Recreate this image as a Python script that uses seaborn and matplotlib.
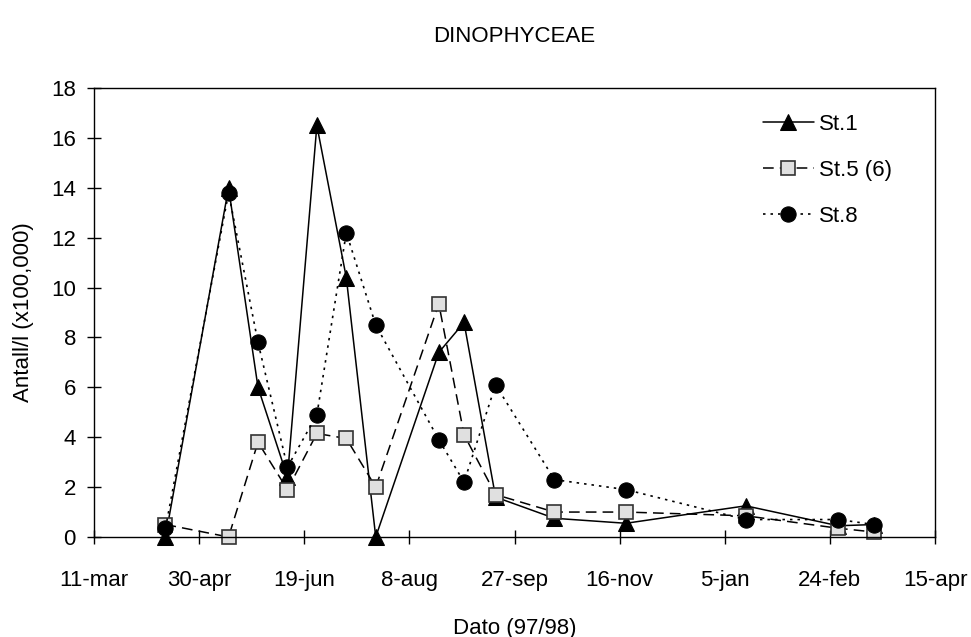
import matplotlib
matplotlib.use('Agg')
import matplotlib.pyplot as plt
import numpy as np
import pandas as pd
import seaborn as sns

# sampling dates and cell counts (x100,000 per litre)
dates = ['1997-04-14', '1997-05-14', '1997-05-28', '1997-06-11', '1997-06-25',
         '1997-07-09', '1997-07-23', '1997-08-22', '1997-09-03', '1997-09-18',
         '1997-10-16', '1997-11-19', '1998-01-15', '1998-02-28', '1998-03-17']
st1 = [0.0, 14.0, 6.0, 2.4, 16.5, 10.4, 0.0, 7.4, 8.6, 1.6, 0.75, 0.55, 1.25, 0.45, 0.5]
st5 = [0.5, 0.0, 3.8, 1.9, 4.15, 3.95, 2.0, 9.35, 4.1, 1.7, 1.0, 1.0, 0.85, 0.35, 0.2]
st8 = [0.35, 13.8, 7.8, 2.8, 4.9, 12.2, 8.5, 3.9, 2.2, 6.1, 2.3, 1.9, 0.7, 0.7, 0.5]

tick_dates = ['1997-03-11', '1997-04-30', '1997-06-19', '1997-08-08', '1997-09-27',
              '1997-11-16', '1998-01-05', '1998-02-24', '1998-04-15']
tick_labels = ['11-mar', '30-apr', '19-jun', '8-aug', '27-sep',
               '16-nov', '5-jan', '24-feb', '15-apr']

sns.set_style('white')
plt.rcParams['font.family'] = ['Liberation Sans', 'DejaVu Sans']
plt.rcParams['text.color'] = 'black'
plt.rcParams['axes.labelcolor'] = 'black'
plt.rcParams['xtick.color'] = 'black'
plt.rcParams['ytick.color'] = 'black'

x = pd.to_datetime(dates)

fig = plt.figure(figsize=(9.71, 6.37), dpi=100)
ax = fig.add_axes([94 / 971, 1 - 537 / 637, 841 / 971, 449 / 637])

sns.lineplot(x=x, y=st1, ax=ax, color='black', linestyle='-', linewidth=1.1,
             marker='^', markersize=11, markerfacecolor='black',
             markeredgecolor='black', errorbar=None, label='St.1', clip_on=False)
sns.lineplot(x=x, y=st5, ax=ax, color='black', linestyle=(0, (7, 4)), linewidth=1.1,
             marker='s', markersize=10, markerfacecolor='#e0e0e0',
             markeredgecolor='#333333', markeredgewidth=1.2, errorbar=None,
             label='St.5 (6)', clip_on=False)
sns.lineplot(x=x, y=st8, ax=ax, color='black', linestyle=(0, (1.5, 3)), linewidth=1.2,
             marker='o', markersize=11, markerfacecolor='black',
             markeredgecolor='black', errorbar=None, label='St.8', clip_on=False)

ax.set_xlim(pd.Timestamp(tick_dates[0]), pd.Timestamp(tick_dates[-1]))
ax.set_ylim(0, 18)
ax.set_xticks(pd.to_datetime(tick_dates))
ax.set_xticklabels(tick_labels)
ax.set_yticks(np.arange(0, 19, 2))

for s in ax.spines.values():
    s.set_visible(True)
    s.set_color('black')
    s.set_linewidth(1.0)

ax.tick_params(axis='x', direction='inout', length=10, width=1, pad=19,
               labelsize=16, bottom=True)
ax.tick_params(axis='y', direction='inout', length=10, width=1, pad=8,
               labelsize=16, left=True)

ax.set_xlabel('Dato (97/98)', fontsize=16, labelpad=19)
ax.set_ylabel('Antall/l (x100,000)', fontsize=16, labelpad=12)
fig.text((94 + 841 / 2) / 971, 1 - 37 / 637, 'DINOPHYCEAE', fontsize=16,
         ha='center', va='center')

ax.legend(loc='upper left', bbox_to_anchor=(0.795, 0.942), frameon=False,
          fontsize=16, handlelength=2.3, handletextpad=0.25, labelspacing=1.13,
          borderpad=0, borderaxespad=0)

fig.savefig('out.png', dpi=100)
